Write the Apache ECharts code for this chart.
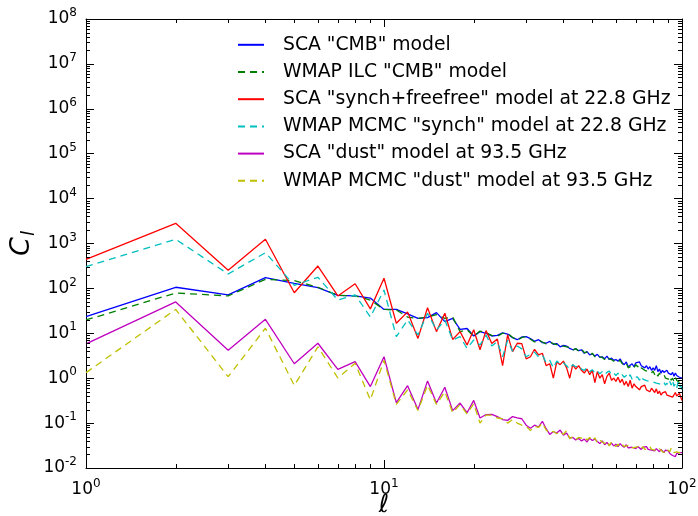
<!DOCTYPE html>
<html>
<head>
<meta charset="utf-8">
<script src="https://cdn.jsdelivr.net/npm/echarts@6/dist/echarts.min.js"></script>
<style>
  html, body { margin: 0; padding: 0; background: #fff; }
  #chart { width: 698px; height: 516px; }
</style>
</head>
<body>
<div id="chart"></div>
<script>
// multipole index l
const ells = [
  1, 2, 3, 4, 5, 6, 7, 8, 9, 10, 11, 12, 13, 14, 15, 16, 17, 18, 19, 20,
  21, 22, 23, 24, 25, 26, 27, 28, 29, 30, 31, 32, 33, 34, 35, 36, 37, 38, 39, 40,
  41, 42, 43, 44, 45, 46, 47, 48, 49, 50, 51, 52, 53, 54, 55, 56, 57, 58, 59, 60,
  61, 62, 63, 64, 65, 66, 67, 68, 69, 70, 71, 72, 73, 74, 75, 76, 77, 78, 79, 80,
  81, 82, 83, 84, 85, 86, 87, 88, 89, 90, 91, 92, 93, 94, 95, 96, 97, 98, 99, 100
];

const scaCmb = [
  23.4, 106, 72, 173, 130, 104, 70, 68, 61, 34,
  34, 27, 21.5, 22.3, 28.8, 18.2, 21.5, 12.2, 12.8, 8.7,
  10.9, 10.0, 8.7, 9.0, 10.2, 9.6, 8.0, 7.2, 8.3, 8.4,
  7.6, 6.6, 7.2, 6.2, 6.0, 6.6, 5.7, 5.9, 5.0, 5.4,
  5.2, 4.6, 4.3, 4.5, 4.1, 4.3, 3.6, 3.9, 3.3, 3.5,
  3.1, 3.4, 2.9, 3.0, 2.7, 3.1, 2.6, 2.8, 2.5, 2.6,
  2.4, 2.7, 2.2, 2.0, 2.3, 1.8, 1.9, 2.1, 1.8, 2.2,
  2.0, 2.3, 1.9, 2.1, 1.7, 1.9, 1.6, 1.8, 1.5, 1.7,
  1.5, 1.9, 1.4, 1.6, 1.3, 1.5, 1.35, 1.25, 1.5, 1.3,
  1.4, 1.2, 1.35, 1.1, 1.3, 1.15, 1.25, 1.05, 1.15, 1.0
];

const wmapIlc = [
  19.8, 79, 68, 159, 149, 106, 70, 68, 55, 34,
  33, 23, 21.5, 23, 26, 21.5, 23, 10.9, 12, 8.5,
  11.2, 10.3, 9.0, 8.6, 10.0, 9.9, 8.2, 7.0, 8.0, 8.6,
  7.4, 6.4, 7.0, 6.4, 5.8, 6.3, 5.9, 5.6, 5.1, 5.2,
  5.0, 4.8, 4.2, 4.6, 4.0, 4.5, 3.7, 3.8, 3.2, 3.6,
  3.0, 3.3, 3.0, 2.9, 2.6, 3.0, 2.7, 2.6, 2.4, 2.5,
  2.3, 2.5, 2.1, 2.0, 2.2, 1.7, 1.8, 1.9, 1.7, 2.0,
  1.8, 2.0, 1.7, 1.8, 1.5, 1.6, 1.4, 1.5, 1.3, 1.45,
  1.2, 1.35, 1.1, 1.3, 1.15, 1.05, 1.2, 1.0, 1.1, 0.95,
  1.1, 0.9, 1.0, 0.85, 1.05, 0.9, 0.95, 0.8, 0.9, 0.8
];

const scaSynch = [
  445, 2810, 253, 1240, 80, 315, 68, 127, 35, 168,
  16.7, 30, 7.7, 37, 10.9, 27.9, 7.3, 10.9, 5.5, 12,
  4.3, 11.5, 5.9, 7.5, 1.9, 9.2, 3.9, 6.0, 5.9, 2.7,
  3.0, 4.4, 3.3, 3.6, 1.9, 2.1, 1.0, 2.3, 2.0, 2.4,
  1.7, 1.0, 2.0, 1.6, 1.9, 1.5, 1.3, 1.6, 1.2, 1.5,
  0.8, 1.4, 1.0, 1.2, 0.75, 1.1, 1.3, 0.9, 1.0, 0.85,
  1.05, 0.8, 0.95, 0.7, 0.85, 0.65, 0.9, 0.6, 0.75, 0.65,
  0.7, 0.55, 0.65, 0.6, 0.7, 0.55, 0.6, 0.5, 0.6, 0.55,
  0.48, 0.58, 0.45, 0.52, 0.42, 0.47, 0.44, 0.5, 0.42, 0.46,
  0.4, 0.44, 0.38, 0.42, 0.48, 0.4, 0.44, 0.46, 0.42, 0.32
];

const wmapSynch = [
  305, 1240, 209, 625, 117, 177, 55, 72, 23, 92,
  8.4, 19.8, 9.2, 28, 11.8, 19.8, 7.1, 8.4, 4.6, 7.1,
  5.5, 9.0, 5.2, 6.5, 3.0, 7.0, 4.0, 5.2, 4.5, 3.0,
  3.4, 3.8, 3.0, 3.3, 2.2, 2.5, 1.7, 2.4, 2.1, 2.2,
  1.9, 1.6, 2.0, 1.8, 1.9, 1.6, 1.5, 1.7, 1.4, 1.55,
  1.3, 1.45, 1.25, 1.4, 1.2, 1.35, 1.45, 1.2, 1.3, 1.15,
  1.3, 1.1, 1.2, 1.05, 1.15, 1.0, 1.2, 0.95, 1.1, 1.0,
  1.05, 0.9, 1.1, 0.95, 1.0, 0.88, 0.95, 0.85, 0.92, 0.82,
  0.9, 0.78, 0.86, 0.75, 0.82, 0.72, 0.8, 0.7, 0.78, 0.68,
  0.85, 0.7, 0.9, 0.66, 0.75, 0.6, 0.82, 0.62, 0.7, 0.55
];

const scaDust = [
  5.8, 50, 4.2, 20.5, 2.1, 6.0, 1.58, 2.33, 0.65, 3.0,
  0.285, 0.68, 0.20, 0.87, 0.28, 0.63, 0.19, 0.28, 0.17, 0.32,
  0.13, 0.155, 0.157, 0.14, 0.12, 0.115, 0.14, 0.13, 0.125, 0.09,
  0.077, 0.09, 0.082, 0.11, 0.075, 0.056, 0.065, 0.06, 0.07, 0.054,
  0.06, 0.046, 0.048, 0.042, 0.046, 0.040, 0.044, 0.038, 0.046, 0.041,
  0.044, 0.039, 0.035, 0.040, 0.033, 0.037, 0.032, 0.036, 0.031, 0.034,
  0.030, 0.035, 0.031, 0.029, 0.033, 0.028, 0.031, 0.029, 0.032, 0.027,
  0.030, 0.028, 0.026, 0.029, 0.027, 0.030, 0.026, 0.028, 0.025, 0.027,
  0.024, 0.027, 0.025, 0.023, 0.026, 0.024, 0.022, 0.025, 0.023, 0.024,
  0.021, 0.023, 0.019, 0.020, 0.018, 0.021, 0.020, 0.022, 0.021, 0.022
];

const wmapDust = [
  1.33, 34, 1.08, 13, 0.69, 5.0, 1.01, 2.14, 0.33, 2.5,
  0.26, 0.55, 0.19, 0.7, 0.26, 0.5, 0.17, 0.26, 0.16, 0.27,
  0.10, 0.15, 0.15, 0.13, 0.125, 0.10, 0.12, 0.10, 0.09, 0.085,
  0.068, 0.085, 0.08, 0.10, 0.07, 0.06, 0.066, 0.058, 0.065, 0.056,
  0.068, 0.045, 0.05, 0.043, 0.048, 0.046, 0.05, 0.042, 0.048, 0.04,
  0.047, 0.036, 0.042, 0.038, 0.035, 0.040, 0.031, 0.038, 0.033, 0.030,
  0.034, 0.029, 0.033, 0.030, 0.031, 0.029, 0.033, 0.028, 0.030, 0.029,
  0.028, 0.031, 0.027, 0.030, 0.026, 0.028, 0.027, 0.030, 0.026, 0.028,
  0.025, 0.026, 0.024, 0.027, 0.025, 0.023, 0.025, 0.022, 0.026, 0.024,
  0.023, 0.028, 0.025, 0.022, 0.021, 0.023, 0.024, 0.022, 0.024, 0.023
];

const seriesNames = [
  'SCA "CMB" model',
  'WMAP ILC "CMB" model',
  'SCA "synch+freefree" model at 22.8 GHz',
  'WMAP MCMC "synch" model at 22.8 GHz',
  'SCA "dust" model at 93.5 GHz',
  'WMAP MCMC "dust" model at 93.5 GHz'
];
const seriesValues = [scaCmb, wmapIlc, scaSynch, wmapSynch, scaDust, wmapDust];
const seriesColors = ['#0000ff', '#008000', '#ff0000', '#00bfbf', '#bf00bf', '#bfbf00'];
const seriesDashed = [false, true, false, true, false, true];

const FONT = 'DejaVu Sans';

// minor tick positions for the log axes (2..9 within each decade)
const xMinor = [];
for (let d = 1; d < 100; d *= 10) for (let k = 2; k <= 9; k++) xMinor.push([k * d, 1]);
const yMinor = [];
for (let e = -2; e < 8; e++) for (let k = 2; k <= 9; k++) yMinor.push([1, k * Math.pow(10, e)]);

const chart = echarts.init(document.getElementById('chart'), null, { renderer: 'canvas' });

const powLabel = (v) => {
  const e = Math.round(Math.log10(v));
  return '{b|10}{s|' + e + '}';
};
const richPow = {
  b: { fontSize: 17, fontFamily: FONT, color: '#000' },
  s: { fontSize: 12, fontFamily: FONT, color: '#000', padding: [0, 0, 12, 0] }
};

const axisCommon = {
  type: 'log',
  logBase: 10,
  axisLine: { show: true, onZero: false, lineStyle: { color: '#000', width: 1 } },
  axisTick: { show: true, inside: true, length: 8, lineStyle: { color: '#000', width: 1 } },
  splitLine: { show: false },
  minorTick: { show: false },
  minorSplitLine: { show: false }
};

const series = seriesNames.map((name, i) => ({
  name: name,
  type: 'line',
  data: ells.map((l, j) => [l, seriesValues[i][j]]),
  showSymbol: false,
  symbol: 'none',
  animation: false,
  z: 3,
  lineStyle: {
    color: seriesColors[i],
    width: 1.3,
    type: seriesDashed[i] ? [7, 5] : 'solid'
  },
  itemStyle: { color: seriesColors[i] }
}));

series.push({
  type: 'custom',
  silent: true,
  animation: false,
  z: 5,
  data: xMinor,
  renderItem: (params, api) => {
    const x = Math.round(api.coord([api.value(0), 1])[0]) + 0.5;
    const cs = params.coordSys;
    const st = { stroke: '#000', lineWidth: 1 };
    return {
      type: 'group',
      children: [
        { type: 'line', shape: { x1: x, y1: cs.y + cs.height, x2: x, y2: cs.y + cs.height - 4 }, style: st },
        { type: 'line', shape: { x1: x, y1: cs.y, x2: x, y2: cs.y + 4 }, style: st }
      ]
    };
  }
});

series.push({
  type: 'custom',
  silent: true,
  animation: false,
  z: 5,
  data: yMinor,
  renderItem: (params, api) => {
    const y = Math.round(api.coord([1, api.value(1)])[1]) + 0.5;
    const cs = params.coordSys;
    const st = { stroke: '#000', lineWidth: 1 };
    return {
      type: 'group',
      children: [
        { type: 'line', shape: { x1: cs.x, y1: y, x2: cs.x + 4, y2: y }, style: st },
        { type: 'line', shape: { x1: cs.x + cs.width, y1: y, x2: cs.x + cs.width - 4, y2: y }, style: st }
      ]
    };
  }
});

const option = {
  backgroundColor: '#fff',
  animation: false,
  grid: { left: 86, right: 16, top: 19, bottom: 48, containLabel: false, outerBoundsMode: 'none' },
  legend: {
    data: seriesNames,
    orient: 'vertical',
    left: 237,
    top: 35.3,
    padding: 0,
    itemWidth: 26,
    itemHeight: 10,
    itemGap: 8.2,
    itemStyle: { color: 'transparent', borderColor: 'transparent', borderWidth: 0, opacity: 0 },
    textStyle: { fontFamily: FONT, fontSize: 18.8, color: '#000', lineHeight: 18, padding: [0, 0, 0, 14] }
  },
  xAxis: [
    Object.assign({}, axisCommon, {
      position: 'bottom',
      min: 1,
      max: 100,
      interval: 1,
      name: 'ℓ',
      nameLocation: 'middle',
      nameGap: 25,
      nameMoveOverlap: false,
      nameTextStyle: { fontFamily: FONT, fontSize: 25, fontStyle: 'italic', color: '#000' },
      axisLabel: { margin: 10, formatter: powLabel, rich: richPow }
    }),
    Object.assign({}, axisCommon, {
      position: 'top',
      min: 1,
      max: 100,
      interval: 1,
      axisLabel: { show: false }
    })
  ],
  yAxis: [
    Object.assign({}, axisCommon, {
      position: 'left',
      min: 0.01,
      max: 1e8,
      interval: 1,
      name: '{c|C}{l|l}',
      nameLocation: 'middle',
      nameGap: 48,
      nameMoveOverlap: false,
      nameRotate: 90,
      nameTextStyle: {
        rich: {
          c: { fontFamily: FONT, fontSize: 27, fontStyle: 'italic', color: '#000' },
          l: { fontFamily: FONT, fontSize: 18, fontStyle: 'italic', color: '#000', padding: [14, 0, 0, 1] }
        }
      },
      axisLabel: { margin: 9, formatter: powLabel, rich: richPow }
    }),
    Object.assign({}, axisCommon, {
      position: 'right',
      min: 0.01,
      max: 1e8,
      interval: 1,
      axisLabel: { show: false }
    })
  ],
  series: series
};

chart.setOption(option);
</script>
</body>
</html>
